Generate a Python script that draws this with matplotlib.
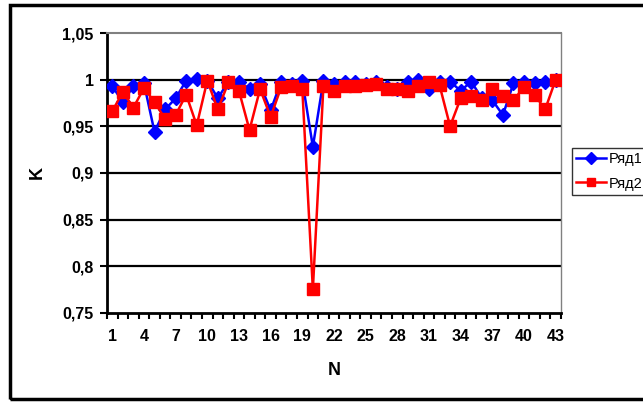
import matplotlib
matplotlib.use("Agg")
import matplotlib.pyplot as plt
import numpy as np
from matplotlib.patches import Rectangle

plt.rcParams['font.family'] = ['Liberation Sans', 'DejaVu Sans']

# data
n = list(range(1, 44))
row1 = [0.993, 0.976, 0.993, 0.996, 0.944, 0.968, 0.980, 0.999, 1.001, 0.999,
        0.980, 0.998, 0.998, 0.990, 0.995, 0.967, 0.998, 0.995, 0.999, 0.928,
        0.999, 0.995, 0.997, 0.998, 0.995, 0.997, 0.992, 0.990, 0.997, 1.000,
        0.990, 0.998, 0.998, 0.988, 0.998, 0.980, 0.978, 0.962, 0.996, 0.997,
        0.996, 0.998, 1.000]
row2 = [0.966, 0.987, 0.970, 0.991, 0.976, 0.958, 0.962, 0.984, 0.951, 0.999,
        0.968, 0.997, 0.988, 0.946, 0.990, 0.960, 0.992, 0.993, 0.990, 0.775,
        0.993, 0.988, 0.993, 0.993, 0.994, 0.995, 0.990, 0.990, 0.988, 0.993,
        0.998, 0.994, 0.950, 0.980, 0.982, 0.978, 0.990, 0.982, 0.978, 0.992,
        0.984, 0.968, 1.000]
labels = ["Ряд1", "Ряд2"]
yticks = [0.75, 0.8, 0.85, 0.9, 0.95, 1.0, 1.05]
ytick_labels = ["0,75", "0,8", "0,85", "0,9", "0,95", "1", "1,05"]

fig = plt.figure(figsize=(6.43, 4.03), dpi=100)

# outer chart frame
fig.patches.append(Rectangle((10 / 643, 4 / 403), 660 / 643, 394 / 403,
                             transform=fig.transFigure, fill=False,
                             edgecolor='black', linewidth=2.5))

ax = fig.add_axes([0.1664, 0.224, 0.706, 0.694])

ax.plot(n, row1, color='#0000ff', marker='D', markersize=7.5, linewidth=1.8,
        label=labels[0], zorder=3)
ax.plot(n, row2, color='#ff0000', marker='s', markersize=8, linewidth=1.8,
        label=labels[1], zorder=4)

ax.set_xlim(0.5, 43.5)
ax.set_ylim(0.75, 1.05)

ax.set_yticks(yticks)
ax.set_yticklabels(ytick_labels, fontsize=11.5, fontweight='bold')
ax.set_xticks(n[::3])
ax.set_xticklabels([str(v) for v in n[::3]], fontsize=11.5, fontweight='bold')
ax.set_xticks(np.arange(0.5, 44.0, 1.0), minor=True)
ax.tick_params(axis='x', which='major', length=0, pad=12)
ax.tick_params(axis='x', which='minor', length=4, width=1.5, direction='out')
ax.tick_params(axis='y', length=5, width=1.5, direction='out', pad=4.5)

for v in yticks[1:-1]:
    ax.axhline(v, color='black', linewidth=1.6, zorder=1)

ax.spines['left'].set_linewidth(2)
ax.spines['bottom'].set_linewidth(2)
ax.spines['top'].set_color('#808080')
ax.spines['right'].set_color('#808080')
ax.spines['top'].set_linewidth(1.5)
ax.spines['right'].set_linewidth(1)

ax.set_xlabel("N", fontsize=13, fontweight='bold', labelpad=13)
ax.set_ylabel("K", fontsize=13, fontweight='bold', labelpad=12)

leg = ax.legend(loc='upper left', bbox_to_anchor=(572 / 643, 1 - 148 / 403),
                bbox_transform=fig.transFigure, prop={'size': 10.5},
                frameon=True, fancybox=False, borderpad=0.3,
                handlelength=2.05, handletextpad=0.2, labelspacing=0.7,
                borderaxespad=0, markerscale=0.8)
leg.get_frame().set_edgecolor('black')
leg.get_frame().set_linewidth(1)

fig.savefig("out.png", dpi=100)
